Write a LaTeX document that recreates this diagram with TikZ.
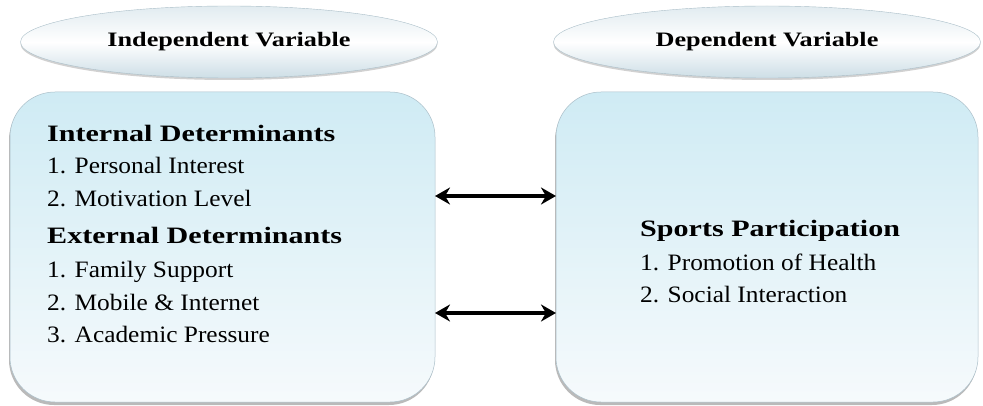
\documentclass[tikz,border=0pt]{standalone}
\usepackage{fontspec}
\setmainfont{Liberation Serif}[UprightFeatures={FakeStretch=1.08}, BoldFeatures={FakeStretch=1.28}]
\usetikzlibrary{shapes.geometric,shadows,arrows.meta}
\definecolor{boxtop}{RGB}{207,235,244}
\definecolor{boxbot}{RGB}{246,250,252}
\definecolor{boxline}{RGB}{170,190,200}
\definecolor{ellout}{RGB}{205,222,230}
\tikzset{
  varbox/.style={draw=boxline, line width=0.5pt, rounded corners=45pt,
    top color=boxtop, bottom color=boxbot,
    drop shadow={shadow xshift=-1pt, shadow yshift=-3pt, opacity=0.45, fill=black!60}},
  headell/.style={ellipse, draw=boxline, line width=0.4pt,
    top color=ellout!60, bottom color=ellout, middle color=white,
    drop shadow={shadow xshift=0pt, shadow yshift=-2pt, opacity=0.3, fill=black!60},
    font=\bfseries\fontsize{20.5}{24}\selectfont, inner sep=0pt},
  head/.style={anchor=base west, font=\bfseries\fontsize{23.5}{26}\selectfont, inner sep=0pt},
  item/.style={anchor=base west, font=\fontsize{23.5}{26}\selectfont, inner sep=0pt},
  biarrow/.style={line width=4pt, {Stealth[length=15pt,width=17pt]}-{Stealth[length=15pt,width=17pt]}}
}
\begin{document}
\begin{tikzpicture}[x=1pt,y=-1pt]
\useasboundingbox (0,0) rectangle (983,406);
% header ellipses
\node[headell, minimum width=417pt, minimum height=72pt] (ivh) at (229,42) {Independent Variable};
\node[headell, minimum width=427pt, minimum height=72pt] (dvh) at (767,42) {Dependent Variable};
% boxes
\draw[varbox] (10,92) rectangle (435,402);
\draw[varbox] (556,92) rectangle (978,402);
\coordinate (lbr1) at (435,196);
\coordinate (rbl1) at (556,196);
\coordinate (lbr2) at (435,313);
\coordinate (rbl2) at (556,313);
% left text
\node[head] (int) at (47,142) {Internal Determinants};
\node[item] (i1) at (47,174) {1. Personal Interest};
\node[item] (i2) at (47,207) {2. Motivation Level};
\node[head] (ext) at (47,244) {External Determinants};
\node[item] (e1) at (47,277) {1. Family Support};
\node[item] (e2) at (47,310) {2. Mobile \& Internet};
\node[item] (e3) at (47,342) {3. Academic Pressure};
% right text
\node[head] (sp) at (640,237) {Sports Participation};
\node[item] (s1) at (640,270) {1. Promotion of Health};
\node[item] (s2) at (640,302) {2. Social Interaction};
% arrows
\draw[biarrow] (lbr1) -- (rbl1);
\draw[biarrow] (lbr2) -- (rbl2);
\end{tikzpicture}
\end{document}
